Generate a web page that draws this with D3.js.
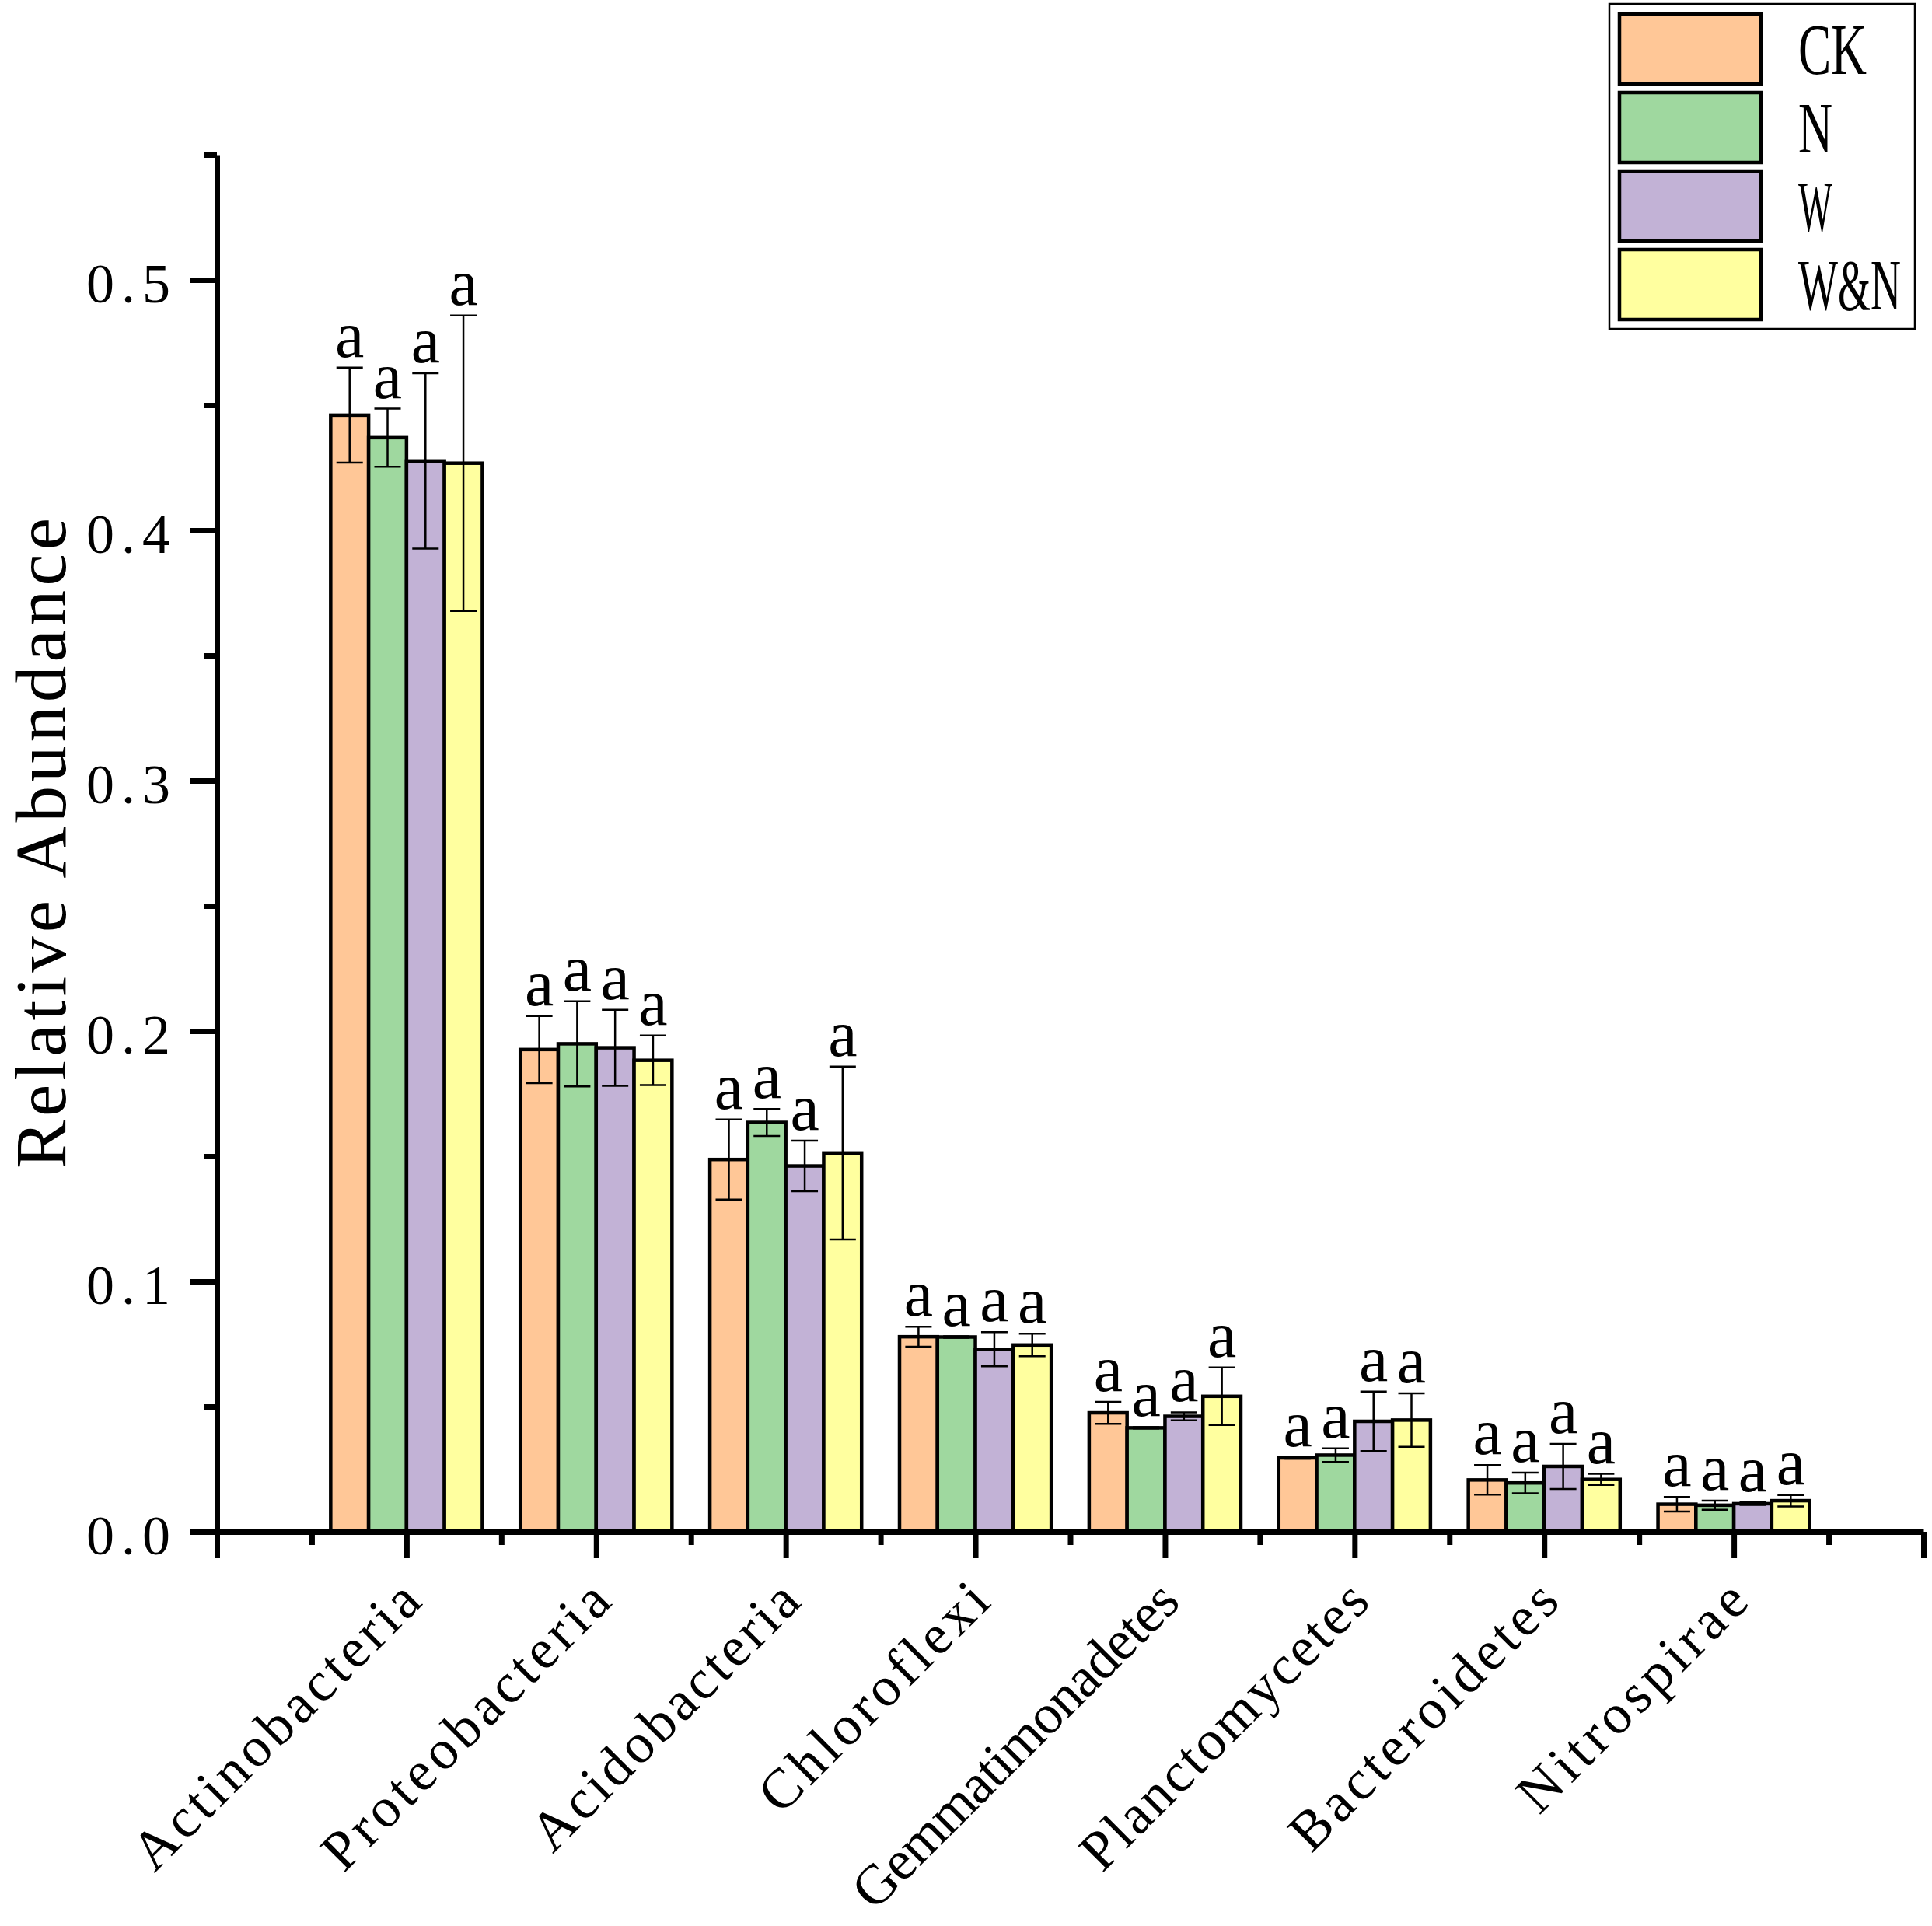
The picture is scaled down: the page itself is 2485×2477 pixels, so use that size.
<!DOCTYPE html>
<html>
<head>
<meta charset="utf-8">
<script src="https://d3js.org/d3.v7.min.js"></script>
<style>
    body { margin: 0; background: #fff; }
    #chart-area text { font-family: "Liberation Serif", "DejaVu Serif", serif; fill: #000; }
</style>
</head>
<body>
<div id="chart-area"></div>
<script>

// phyla on the x axis, in plotting order
var phyla = ["Actinobacteria", "Proteobacteria", "Acidobacteria", "Chloroflexi",
    "Gemmatimonadetes", "Planctomycetes", "Bacteroidetes", "Nitrospirae"];

var treatments = ["CK", "N", "W", "W&N"];
var treatmentColors = ["#ffc797", "#9fd89f", "#c2b2d6", "#ffff9f"];

// mean relative abundance
var ckMean = [0.446, 0.1926, 0.1487, 0.0779, 0.0475, 0.0295, 0.0207, 0.0110];
var nMean  = [0.437, 0.1949, 0.1635, 0.0778, 0.0415, 0.0306, 0.0195, 0.0106];
var wMean  = [0.4277, 0.1933, 0.1461, 0.0729, 0.0461, 0.0441, 0.0261, 0.0112];
var wnMean = [0.4268, 0.1883, 0.1513, 0.0746, 0.0541, 0.0446, 0.0209, 0.0124];

// standard error
var ckErr = [0.019, 0.0134, 0.016, 0.004, 0.0044, 0.0003, 0.0059, 0.0029];
var nErr  = [0.0116, 0.017, 0.0054, 0.0003, 0.0003, 0.0027, 0.0041, 0.0018];
var wErr  = [0.035, 0.0152, 0.0101, 0.0068, 0.0016, 0.0119, 0.0090, 0.0005];
var wnErr = [0.059, 0.0099, 0.0345, 0.0045, 0.0115, 0.0107, 0.0022, 0.0023];

// significance letters
var ckLetters = ["a", "a", "a", "a", "a", "a", "a", "a"];
var nLetters  = ["a", "a", "a", "a", "a", "a", "a", "a"];
var wLetters  = ["a", "a", "a", "a", "a", "a", "a", "a"];
var wnLetters = ["a", "a", "a", "a", "a", "a", "a", "a"];

var yTickValues = [0, 0.1, 0.2, 0.3, 0.4, 0.5];
var yMinorValues = [0.05, 0.15, 0.25, 0.35, 0.45, 0.55];


BarChart = function(_parentElement){
    this.parentElement = _parentElement;
    this.initVis();
};

BarChart.prototype.initVis = function(){
    var vis = this;

    vis.width = 2485;
    vis.height = 2477;

    vis.svg = d3.select(vis.parentElement).append("svg")
        .attr("width", vis.width)
        .attr("height", vis.height);

    // categories sit on positions 1..8 of a 0..9 axis
    vis.x = d3.scaleLinear()
        .domain([0, 9])
        .range([279, 2474]);

    vis.y = d3.scaleLinear()
        .domain([0, 0.55])
        .range([1970, 199]);

    vis.groupWidth = (vis.x(1) - vis.x(0)) * 0.8;

    vis.inner = d3.scaleBand()
        .domain(treatments)
        .range([-vis.groupWidth / 2, vis.groupWidth / 2])
        .padding(0);

    vis.wrangleData();
};

BarChart.prototype.wrangleData = function(){
    var vis = this;

    var means = [ckMean, nMean, wMean, wnMean];
    var errs = [ckErr, nErr, wErr, wnErr];
    var letters = [ckLetters, nLetters, wLetters, wnLetters];

    vis.displayData = phyla.map(function(p, i) {
        return {
            phylum: p,
            pos: i + 1,
            values: treatments.map(function(t, j) {
                return { treatment: t, color: treatmentColors[j],
                    mean: means[j][i], err: errs[j][i], letter: letters[j][i] };
            })
        };
    });

    vis.updateVis();
};

BarChart.prototype.updateVis = function(){
    var vis = this;

    var group = vis.svg.selectAll(".phylum")
        .data(vis.displayData)
        .enter().append("g")
        .attr("class", "phylum")
        .attr("transform", function(d) { return "translate(" + vis.x(d.pos) + ",0)"; });

    // bars
    group.selectAll(".bar")
        .data(function(d) { return d.values; })
        .enter().append("rect")
        .attr("class", "bar")
        .attr("x", function(d) { return vis.inner(d.treatment); })
        .attr("y", function(d) { return vis.y(d.mean); })
        .attr("width", vis.inner.bandwidth())
        .attr("height", function(d) { return vis.y(0) - vis.y(d.mean); })
        .style("fill", function(d) { return d.color; })
        .style("stroke", "#000")
        .style("stroke-width", 4.5);

    // error bars
    var cap = 17;
    var err = group.selectAll(".err")
        .data(function(d) { return d.values; })
        .enter().append("g")
        .attr("class", "err")
        .attr("transform", function(d) {
            return "translate(" + (vis.inner(d.treatment) + vis.inner.bandwidth() / 2) + ",0)";
        });

    err.append("line")
        .attr("x1", 0).attr("x2", 0)
        .attr("y1", function(d) { return vis.y(d.mean + d.err); })
        .attr("y2", function(d) { return vis.y(d.mean - d.err); });

    err.append("line")
        .attr("x1", -cap).attr("x2", cap)
        .attr("y1", function(d) { return vis.y(d.mean + d.err); })
        .attr("y2", function(d) { return vis.y(d.mean + d.err); });

    err.append("line")
        .attr("x1", -cap).attr("x2", cap)
        .attr("y1", function(d) { return vis.y(d.mean - d.err); })
        .attr("y2", function(d) { return vis.y(d.mean - d.err); });

    err.selectAll("line")
        .style("stroke", "#000")
        .style("stroke-width", 2.5);

    // significance letters
    err.append("text")
        .attr("class", "sig")
        .attr("x", 0)
        .attr("y", function(d) { return vis.y(d.mean + d.err) - 14; })
        .attr("text-anchor", "middle")
        .style("font-size", "84px")
        .text(function(d) { return d.letter; });

    // axes
    var fmt = d3.format(".1f");

    vis.yAxis = d3.axisLeft(vis.y)
        .tickValues(yTickValues)
        .tickFormat(fmt)
        .tickSize(34)
        .tickSizeOuter(0)
        .tickPadding(26);

    vis.yMinor = d3.axisLeft(vis.y)
        .tickValues(yMinorValues)
        .tickFormat("")
        .tickSize(17)
        .tickSizeOuter(0);

    vis.xAxis = d3.axisBottom(vis.x)
        .tickValues(d3.range(0, 10))
        .tickFormat("")
        .tickSize(34)
        .tickSizeOuter(0);

    vis.xMinor = d3.axisBottom(vis.x)
        .tickValues(d3.range(0.5, 9, 1))
        .tickFormat("")
        .tickSize(17)
        .tickSizeOuter(0);

    var yG = vis.svg.append("g")
        .attr("class", "y-axis")
        .attr("transform", "translate(" + vis.x(0) + ",0)")
        .call(vis.yAxis);

    vis.svg.append("g")
        .attr("class", "y-minor")
        .attr("transform", "translate(" + vis.x(0) + ",0)")
        .call(vis.yMinor)
        .call(function(g) { g.select(".domain").remove(); });

    vis.svg.append("g")
        .attr("class", "x-axis")
        .attr("transform", "translate(0," + vis.y(0) + ")")
        .call(vis.xAxis);

    vis.svg.append("g")
        .attr("class", "x-minor")
        .attr("transform", "translate(0," + vis.y(0) + ")")
        .call(vis.xMinor)
        .call(function(g) { g.select(".domain").remove(); });

    vis.svg.selectAll(".y-axis, .y-minor, .x-axis, .x-minor")
        .selectAll("path, line")
        .style("stroke", "#000")
        .style("stroke-width", 7);

    yG.selectAll("text")
        .attr("dy", "0.4em")
        .attr("font-family", null)
        .style("font-size", "72px")
        .attr("textLength", function(d) { return fmt(d).length * 36; })
        .attr("lengthAdjust", "spacing");

    // category labels, rotated
    vis.svg.selectAll(".x-label")
        .data(vis.displayData)
        .enter().append("text")
        .attr("class", "x-label")
        .attr("transform", function(d) {
            return "translate(" + (vis.x(d.pos) + 22) + "," + (vis.y(0) + 93) + ") rotate(-45)";
        })
        .attr("text-anchor", "end")
        .style("font-size", "72px")
        .attr("textLength", function(d) { return d.phylum.length * 35; })
        .attr("lengthAdjust", "spacing")
        .text(function(d) { return d.phylum; });

    // y axis title
    var title = "Relative Abundance";
    vis.svg.append("text")
        .attr("class", "y-title")
        .attr("transform", "translate(84," + ((vis.y(0) + vis.y(0.55)) / 2) + ") rotate(-90)")
        .attr("text-anchor", "middle")
        .style("font-size", "93px")
        .attr("textLength", title.length * 46.5)
        .attr("lengthAdjust", "spacing")
        .text(title);

    // legend
    var legend = vis.svg.append("g")
        .attr("class", "legend")
        .attr("transform", "translate(2070,5)");

    legend.append("rect")
        .attr("width", 393)
        .attr("height", 418)
        .style("fill", "#fff")
        .style("stroke", "#000")
        .style("stroke-width", 2.5);

    var item = legend.selectAll(".item")
        .data(treatments)
        .enter().append("g")
        .attr("class", "item")
        .attr("transform", function(d, i) { return "translate(0," + (i * 101) + ")"; });

    item.append("rect")
        .attr("x", 13)
        .attr("y", 13)
        .attr("width", 182)
        .attr("height", 90)
        .style("fill", function(d, i) { return treatmentColors[i]; })
        .style("stroke", "#000")
        .style("stroke-width", 4.5);

    // narrow legend text: squeeze horizontally to the glyph cell width
    item.append("text")
        .style("font-size", "94px")
        .text(function(d) { return d; })
        .attr("transform", function(d) {
            var w = this.getComputedTextLength();
            return "translate(243,90) scale(" + (d.length * 44 / w) + ",1)";
        });
};

var chart = new BarChart("#chart-area");

</script>
</body>
</html>
